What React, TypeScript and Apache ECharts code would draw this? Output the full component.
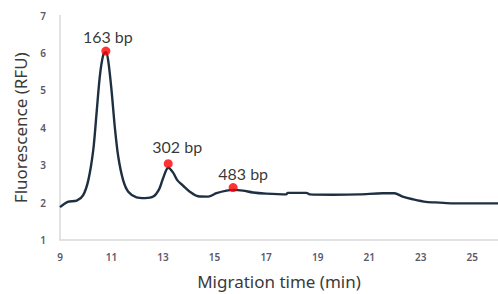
import React, { useEffect, useRef } from "react";
import * as echarts from "echarts";

const times = [9.0, 9.3, 9.65, 9.9, 10.1, 10.29, 10.42, 10.55, 10.68, 10.78, 10.87, 11.0, 11.13, 11.26, 11.45, 11.65, 11.97, 12.3, 12.62, 12.85, 13.0, 13.2, 13.39, 13.55, 13.78, 14.04, 14.36, 14.75, 15.07, 15.46, 15.75, 16.1, 16.49, 17.0, 17.78, 17.84, 18.56, 18.69, 19.6, 20.63, 21.53, 21.98, 22.3, 22.69, 23.21, 23.73, 24.24, 26.0];
const rfu = [1.88, 2.02, 2.05, 2.2, 2.6, 3.4, 4.4, 5.4, 5.95, 6.02, 5.8, 5.0, 4.0, 3.23, 2.6, 2.29, 2.14, 2.12, 2.16, 2.36, 2.65, 2.93, 2.8, 2.6, 2.45, 2.29, 2.17, 2.16, 2.25, 2.32, 2.34, 2.32, 2.27, 2.24, 2.22, 2.26, 2.26, 2.22, 2.21, 2.22, 2.25, 2.25, 2.16, 2.09, 2.02, 2.0, 1.98, 1.98];

const peakTimes = [10.78, 13.2, 15.72];
const peakValues = [6.05, 3.04, 2.4];
const peakLabels = ["163 bp", "302 bp", "483 bp"];

const xTicks = [9, 11, 13, 15, 17, 19, 21, 23, 25];

export default function App() {
  const ref = useRef<HTMLDivElement>(null);
  useEffect(() => {
    if (!ref.current) return;
    const chart = echarts.init(ref.current, undefined, { renderer: "svg" });
    const labelOffsets = [[2, 3], [9, 0], [10, 3]];
    chart.setOption({
      animation: false,
      grid: { left: 60, right: 0, top: 15.5, bottom: 54, containLabel: false, outerBoundsMode: "none" },
      xAxis: {
        type: "value",
        min: 9,
        max: 26,
        name: "Migration time (min)",
        nameLocation: "middle",
        nameGap: 33,
        nameTextStyle: { fontFamily: "Noto Sans", fontSize: 17, color: "#3a3a3a" },
        axisLine: { lineStyle: { color: "#d9d9d9", width: 1.5 } },
        axisTick: { show: false },
        splitLine: { show: false },
        axisLabel: {
          customValues: xTicks,
          fontFamily: "Noto Sans",
          fontSize: 10,
          fontWeight: 600,
          color: "#595968",
          margin: 12,
        },
      },
      yAxis: {
        type: "value",
        min: 1,
        max: 7,
        interval: 1,
        name: "Fluorescence (RFU)",
        nameLocation: "middle",
        nameRotate: 90,
        nameGap: 26,
        nameTextStyle: { fontFamily: "Noto Sans", fontSize: 17, color: "#3a3a3a" },
        axisLine: { show: true, lineStyle: { color: "#d9d9d9", width: 1.5 } },
        axisTick: { show: false },
        splitLine: { show: false },
        axisLabel: {
          fontFamily: "Noto Sans",
          fontSize: 10,
          fontWeight: 600,
          color: "#595968",
          margin: 14,
        },
      },
      series: [
        {
          type: "line",
          data: times.map((t, i) => [t, rfu[i]]),
          showSymbol: false,
          smooth: 0.3,
          lineStyle: { color: "#1f2f42", width: 2.4 },
          z: 2,
        },
        {
          type: "scatter",
          symbolSize: 9,
          itemStyle: { color: "#ff0000" },
          data: peakTimes.map((t, i) => ({
            value: [t, peakValues[i]],
            label: {
              show: true,
              position: "top",
              formatter: peakLabels[i],
              offset: labelOffsets[i],
              fontFamily: "Lato",
              fontSize: 16,
              color: "#000000",
            },
          })),
          z: 3,
        },
      ],
    });
    return () => chart.dispose();
  }, []);
  return (
    <div
      ref={ref}
      style={{ position: "absolute", left: 0, top: 0, width: 498, height: 294 }}
    />
  );
}
